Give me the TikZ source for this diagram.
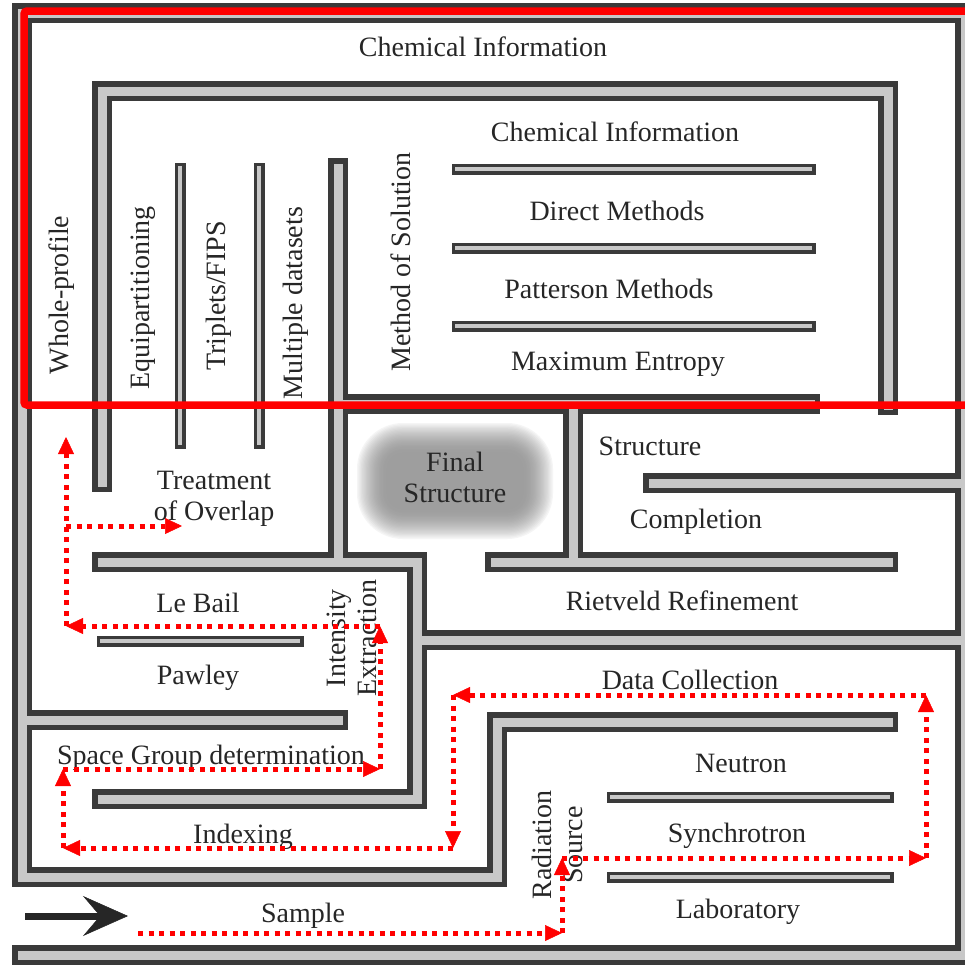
\documentclass[tikz,border=0pt]{standalone}
\usepackage{fontspec}
\setmainfont{Liberation Serif}
\usetikzlibrary{arrows.meta}
\definecolor{walldark}{RGB}{58,58,58}
\definecolor{wallfill}{RGB}{200,200,200}
\tikzset{
  wallout/.style={draw=walldark,line width=20pt,line cap=rect,line join=miter},
  wallin/.style={draw=wallfill,line width=9pt,line cap=rect,line join=miter},
  thinout/.style={draw=walldark,line width=11pt,line cap=rect},
  thinin/.style={draw=wallfill,line width=4.5pt,line cap=rect},
  lbl/.style={font=\fontsize{28}{31}\selectfont,inner sep=0pt,align=center,text=black!85},
  route/.style={red,line width=5pt,dash pattern=on 5pt off 5.5pt,
    -{Triangle[length=17pt,width=16pt,line width=0.5pt]}},
}
% walls of the maze, called twice: dark edge first, grey core on top
\newcommand\mazewalls[2]{%
  \draw[#1] (22,955)--(965,955)--(965,13)--(22,13)--(22,877)--(497,877)--(497,722)--(888,722); %outer frame
  \draw[#1] (102,482)--(102,91)--(888,91)--(888,405); %inner box
  \draw[#1] (338,168)--(338,562); %method of solution
  \draw[#1] (338,404)--(810,404);
  \draw[#1] (102,562)--(417,562)--(417,799)--(102,799); %intensity extraction
  \draw[#1] (417,640)--(965,640); %rietveld bottom
  \draw[#1] (495,562)--(888,562); %rietveld top
  \draw[#1] (573,404)--(573,562);
  \draw[#1] (653,483)--(965,483); %structure completion
  \draw[#1] (22,720)--(338,720); %pawley
  \draw[#2] (180,168)--(180,443);
  \draw[#2] (259,168)--(259,443);
  \draw[#2] (457,169)--(810,169);
  \draw[#2] (457,248)--(810,248);
  \draw[#2] (457,326)--(810,326);
  \draw[#2] (102,641)--(298,641);
  \draw[#2] (612,797)--(888,797);
  \draw[#2] (612,877)--(888,877);
}

\begin{document}
\begin{tikzpicture}[x={(1pt,0)},y={(0,-1pt)}]
\fill[white] (0,0) rectangle (965,964);
\useasboundingbox (0,0) rectangle (965,964);

\mazewalls{wallout}{thinout}
\mazewalls{wallin}{thinin}

%soft grey blob behind final structure
\coordinate (finalblob) at (455,481);
\foreach \k in {0,...,24}{
  \pgfmathsetmacro\inset{1.3*\k}
  \pgfmathsetmacro\shade{4+34*(1-(1-\k/24)^2)}
  \pgfmathsetmacro\rad{max(46-\inset,8)}
  \fill[black!\shade,rounded corners=\rad pt]
    ([shift={(-98+\inset,-58+\inset)}]finalblob) rectangle ([shift={(98-\inset,58-\inset)}]finalblob);
}

%labels
\node[lbl] (chemtop) at (483,47) {Chemical Information};
\node[lbl] (cheminner) at (615,132) {Chemical Information};
\node[lbl] (direct) at (617,211) {Direct Methods};
\node[lbl] (patterson) at (609,289) {Patterson Methods};
\node[lbl] (maxent) at (618,364) {Maximum Entropy};
\node[lbl,rotate=90] (wholeprof) at (62,295) {Whole-profile};
\node[lbl,rotate=90] (equip) at (143,298) {Equipartitioning};
\node[lbl,rotate=90] (triplets) at (219,296) {Triplets/FIPS};
\node[lbl,rotate=90] (multidata) at (296,303) {Multiple datasets};
\node[lbl,rotate=90] (method) at (401,262) {Method of Solution};
\node[lbl] (overlap) at (214,499) {Treatment\\of Overlap};
\node[lbl] (final) at (455,477) {Final\\Structure};
\node[lbl] (structure) at (650,446) {Structure};
\node[lbl] (completion) at (696,522) {Completion};
\node[lbl] (rietveld) at (682,601) {Rietveld Refinement};
\node[lbl] (lebail) at (198,603) {Le Bail};
\node[lbl] (pawley) at (198,678) {Pawley};
\node[lbl,rotate=90] (intensity) at (352,638) {Intensity\\Extraction};
\node[lbl] (spacegroup) at (211,758) {Space Group determination};
\node[lbl] (indexing) at (243,837) {Indexing};
\node[lbl] (sample) at (303,916) {Sample};
\node[lbl] (datacoll) at (690,680) {Data Collection};
\node[lbl] (neutron) at (741,763) {Neutron};
\node[lbl] (synchro) at (737,836) {Synchrotron};
\node[lbl] (lab) at (738,912) {Laboratory};
\node[lbl,rotate=90] (radsource) at (557,845) {Radiation\\Source};

%entrance arrow
\coordinate (arrowtail) at (25,916);
\coordinate (arrowtip) at (128,916);
\draw[black!85,line width=7pt,-{Stealth[length=45pt,width=40pt,inset=17pt,line width=0.5pt]}] (arrowtail) -- (arrowtip);

%route through the maze
\coordinate (r1) at (138,933);
\coordinate (r2) at (562,933);
\coordinate (r3) at (562,858);
\coordinate (r4) at (926,858);
\coordinate (r5) at (926,695);
\coordinate (r6) at (453,695);
\coordinate (r7) at (453,848);
\coordinate (r8) at (63,848);
\coordinate (r9) at (63,769);
\coordinate (r10) at (380,769);
\coordinate (r11) at (380,626);
\coordinate (r12) at (66,626);
\coordinate (r13) at (66,437);
\coordinate (r14) at (66,526);
\coordinate (r15) at (182,526);
\draw[route] (r1) -- (r2);
\draw[route] (r2) -- (r3);
\draw[route] (r3) -- (r4);
\draw[route] (r4) -- (r5);
\draw[route] (r5) -- (r6);
\draw[route] (r6) -- (r7);
\draw[route] (r7) -- (r8);
\draw[route] (r8) -- (r9);
\draw[route] (r9) -- (r10);
\draw[route] (r10) -- (r11);
\draw[route] (r11) -- (r12);
\draw[route] (r12) -- (r13);
\draw[route] (r14) -- (r15);

%highlight box
\draw[red,line width=7.5pt,rounded corners=3pt] (24,11) rectangle (978,405);
\end{tikzpicture}
\end{document}
